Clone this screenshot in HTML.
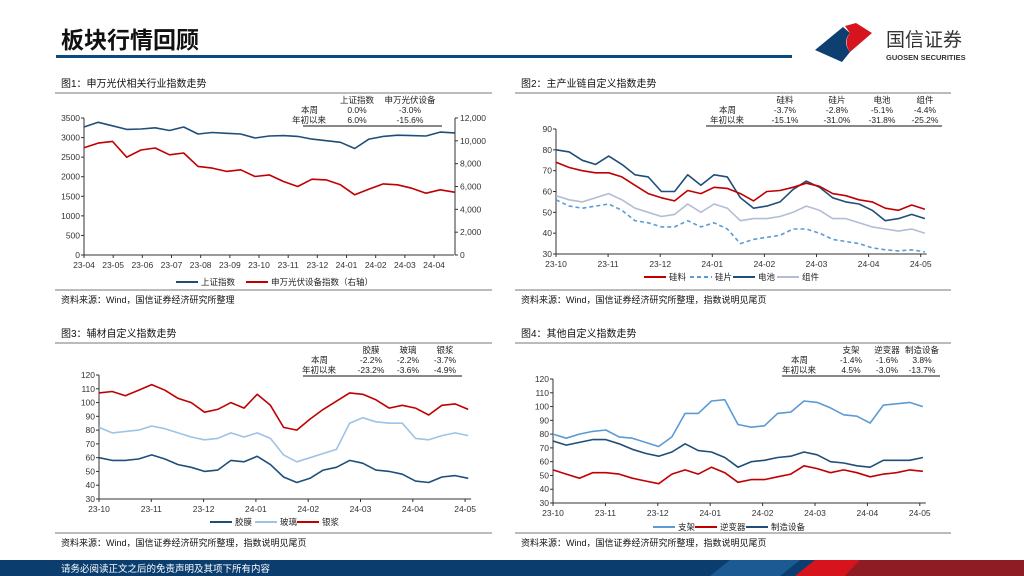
<!DOCTYPE html>
<html><head><meta charset="utf-8"><style>
html,body{margin:0;padding:0;background:#fff;}
svg{display:block;font-family:"Liberation Sans","Noto Sans CJK SC",sans-serif;}
</style></head><body>
<svg id="page" width="1024" height="576" viewBox="0 0 1024 576" xmlns="http://www.w3.org/2000/svg">
<text x="61" y="48" font-size="23" font-weight="bold" fill="#111">板块行情回顾</text>
<rect x="56" y="55" width="736" height="3" fill="#0b4a7f"/>
<g>
<path d="M815 50 L843 27 L850 33 Q842 42 850 52 L842 62 Z" fill="#0e3f70"/>
<path d="M845 26 L856 23 L872 33 L850 52 Q843 42 850 33 Z" fill="#d7141e"/>
<text x="886" y="46" font-size="19" fill="#333">国信证券</text>
<text x="886" y="60" font-size="7.5" font-weight="bold" fill="#333">GUOSEN SECURITIES</text>
</g>
<g>
<rect x="0" y="560" width="1024" height="16" fill="#0b3e6f"/>
<polygon points="730,560 800,560 780,576 710,576" fill="#1c5a94"/>
<polygon points="815,560 860,560 845,576 795,576" fill="#d7141e"/>
<polygon points="860,560 1024,560 1024,576 845,576" fill="#8e1c24"/>
<text x="61" y="572" font-size="9.5" fill="#fff">请务必阅读正文之后的免责声明及其项下所有内容</text>
</g>
<g id="charts"></g>
</svg>
<script>
// ---- Chart 1 data (semi-monthly, 23-04 .. 24-04 end)
const c1Months = ["23-04","23-05","23-06","23-07","23-08","23-09","23-10","23-11","23-12","24-01","24-02","24-03","24-04"];
const c1Sse = [3270,3390,3300,3210,3220,3250,3180,3270,3090,3130,3110,3090,2990,3040,3050,3030,2960,2920,2880,2720,2960,3030,3060,3050,3040,3140,3120];
const c1Pv = [9400,9800,9950,8570,9200,9370,8780,8930,7760,7610,7320,7460,6880,7020,6440,6000,6640,6580,6150,5270,5770,6230,6150,5850,5410,5710,5500];
const c1LeftTicks = [0,500,1000,1500,2000,2500,3000,3500];
const c1RightTicks = [0,2000,4000,6000,8000,10000,12000];
const c1RightLabels = ["0","2,000","4,000","6,000","8,000","10,000","12,000"];
const c1TableCols = ["上证指数","申万光伏设备"];
const c1Week = ["0.0%","-3.0%"];
const c1Ytd = ["6.0%","-15.6%"];
// ---- Shared months for charts 2-4
const months7 = ["23-10","23-11","23-12","24-01","24-02","24-03","24-04","24-05"];
// ---- Chart 2 data (weekly)
const c2Silicon = [74,71.5,70,69,69,67,63,59,57,55.5,60.5,59,62,61.5,59,55.5,60,60.5,62,64,62.5,59,58,56,55,52,51,53.5,51.5];
const c2Wafer = [56,53,52,53,54,51,46,45,43,43,46,43,45,42,35,37,38,39,42,42,40,37,36,35,33,32,31.5,32,31];
const c2Cell = [80,79,75,73,77,73,68,67,60,60,68,63,68,67,57,52,53,55,61,65,62,57,55,54,51,46,47,49,47];
const c2Module = [58,56,55,57,59,56,52,50,48,49,54,50,54,52,46,47,47,48,50,53,51,47,47,45,43,42,41,42,40];
const c2Ticks = [30,40,50,60,70,80,90];
const c2TableCols = ["硅料","硅片","电池","组件"];
const c2Week = ["-3.7%","-2.8%","-5.1%","-4.4%"];
const c2Ytd = ["-15.1%","-31.0%","-31.8%","-25.2%"];
// ---- Chart 3 data
const c3Film = [60,58,58,59,62,59,55,53,50,51,58,57,61,55,46,42,45,51,53,58,56,51,50,48,43,42,46,47,45];
const c3Glass = [82,78,79,80,83,81,78,75,73,74,78,75,78,74,62,57,60,63,66,85,89,86,85,85,74,73,76,78,76];
const c3Paste = [107,108,105,109,113,109,103,100,93,95,100,96,106,98,82,80,88,95,101,107,106,102,96,98,96,91,98,99,95];
const c3Ticks = [30,40,50,60,70,80,90,100,110,120];
const c3TableCols = ["胶膜","玻璃","银浆"];
const c3Week = ["-2.2%","-2.2%","-3.7%"];
const c3Ytd = ["-23.2%","-3.6%","-4.9%"];
// ---- Chart 4 data
const c4Bracket = [80,77,80,82,83,78,77,74,71,78,95,95,104,105,87,85,86,95,96,104,103,99,94,93,88,101,102,103,100];
const c4Inverter = [54,51,48,52,52,51,48,46,44,51,54,51,56,52,45,47,47,49,51,57,55,52,54,52,49,51,52,54,53];
const c4Equip = [75,72,74,76,76,73,69,66,64,67,73,68,67,63,56,60,61,63,64,67,65,60,59,57,56,61,61,61,63];
const c4Ticks = c3Ticks;
const c4TableCols = ["支架","逆变器","制造设备"];
const c4Week = ["-1.4%","-1.6%","3.8%"];
const c4Ytd = ["4.5%","-3.0%","-13.7%"];

const NS="http://www.w3.org/2000/svg";
const root=document.getElementById('charts');
function mk(tag,attrs,parent){const e=document.createElementNS(NS,tag);for(const k in attrs)e.setAttribute(k,attrs[k]);(parent||root).appendChild(e);return e;}
function txt(s,x,y,size,anchor,parent,fill){const t=mk('text',{x:x,y:y,'font-size':size,'text-anchor':anchor||'start',fill:fill||'#222'},parent);t.textContent=s;return t;}

function frame(ox,w,top,title,bottomY,source,g){
  txt(title,ox+6,top-5,10,'start',g,'#111');
  mk('line',{x1:ox,y1:top+1,x2:ox+w,y2:top+1,stroke:'#777','stroke-width':1},g);
  mk('line',{x1:ox,y1:bottomY,x2:ox+w,y2:bottomY,stroke:'#777','stroke-width':1},g);
  txt(source,ox+6,bottomY+13,9,'start',g,'#111');
}
function table(cols,cx,week,ytd,labelX,y0,lineX1,lineX2,g){
  cols.forEach((c,i)=>{txt(c,cx[i],y0,8.5,'middle',g);txt(week[i],cx[i],y0+10,8.5,'middle',g);txt(ytd[i],cx[i],y0+20,8.5,'middle',g);});
  txt("本周",labelX,y0+10,8.5,'end',g);txt("年初以来",labelX+8,y0+20,8.5,'end',g);
  mk('line',{x1:lineX1,y1:y0+23,x2:lineX2,y2:y0+23,stroke:'#111','stroke-width':1},g);
}
function series(vals,xStart,xEnd,yf,color,dash,g,name){
  const n=vals.length;let d='';
  vals.forEach((v,i)=>{const x=xStart+(xEnd-xStart)*i/(n-1);d+=(i?'L':'M')+x.toFixed(1)+' '+yf(v).toFixed(1);});
  const p=mk('path',{d:d,fill:'none',stroke:color,'stroke-width':1.6,'stroke-linejoin':'round'},g);
  if(dash)p.setAttribute('stroke-dasharray',dash);
  
  
}
function legend(items,y,g){
  items.forEach(it=>{const l=mk('line',{x1:it[0],y1:y-3,x2:it[0]+22,y2:y-3,stroke:it[2],'stroke-width':2},g);if(it[3])l.setAttribute('stroke-dasharray',it[3]);txt(it[1],it[0]+25,y,8.5,'start',g);});
}
function xAxis(labels,x0,step,yAxis,g){
  mk('line',{x1:x0,y1:yAxis,x2:x0+step*(labels.length-1)+ (labels.length>8?20:6),y2:yAxis,stroke:'#333','stroke-width':1},g);
  labels.forEach((l,i)=>{const x=x0+step*i;mk('line',{x1:x,y1:yAxis,x2:x,y2:yAxis+3,stroke:'#333'},g);txt(l,x,yAxis+13,8.5,'middle',g,'#333');});
}
function yAxis(ticks,x,yf,g,labels,anchorRight){
  mk('line',{x1:x,y1:yf(ticks[0]),x2:x,y2:yf(ticks[ticks.length-1]),stroke:'#333','stroke-width':1},g);
  ticks.forEach((t,i)=>{const y=yf(t);mk('line',{x1:anchorRight?x:x-3,y1:y,x2:anchorRight?x+3:x,y2:y,stroke:'#333'},g);txt(labels?labels[i]:String(t),anchorRight?x+5:x-4,y+3,8.5,anchorRight?'start':'end',g,'#333');});
}

// Chart 1
{const g=mk('g',{});


frame(55,437,92,"图1：申万光伏相关行业指数走势",290,"资料来源：Wind，国信证券经济研究所整理",g);
const yl=v=>255-v/3500*137, yr=v=>255-v/12000*137;
yAxis(c1LeftTicks,84,yl,g);yAxis(c1RightTicks,455,yr,g,c1RightLabels,true);
const step=29.17;xAxis(c1Months,84,step,255,g);
const xe=84+step*12.7;
series(c1Sse,84,xe,yl,'#1f4e79',null,g,'sse-index-line');
series(c1Pv,84,xe,yr,'#c00000',null,g,'pv-equipment-line');
table(c1TableCols,[357,410],c1Week,c1Ytd,318,103,303,442,g);
legend([[176,"上证指数",'#1f4e79'],[246,"申万光伏设备指数（右轴）",'#c00000']],285,g);}

// Chart 2
{const g=mk('g',{});


frame(515,436,92,"图2：主产业链自定义指数走势",290,"资料来源：Wind，国信证券经济研究所整理，指数说明见尾页",g);
const yf=v=>254-(v-30)/60*125;
yAxis(c2Ticks,556,yf,g);const step=52.1;xAxis(months7,556,step,254,g);
const xe=556+step*7.08;
series(c2Module,556,xe,yf,'#b4bdd6',null,g,'module-line');
series(c2Wafer,556,xe,yf,'#5b9bd5','4 3',g,'wafer-line');
series(c2Cell,556,xe,yf,'#1f4e79',null,g,'cell-line');
series(c2Silicon,556,xe,yf,'#c00000',null,g,'polysilicon-line');
table(c2TableCols,[785,837,882,925],c2Week,c2Ytd,736,103,706,942,g);
legend([[644,"硅料",'#c00000'],[690,"硅片",'#5b9bd5','4 3'],[733,"电池",'#1f4e79'],[777,"组件",'#b4bdd6']],280,g);}

// Chart 3
{const g=mk('g',{});


frame(55,437,342,"图3：辅材自定义指数走势",533,"资料来源：Wind，国信证券经济研究所整理，指数说明见尾页",g);
const yf=v=>499-(v-30)/90*124;
yAxis(c3Ticks,99,yf,g);const step=52.3;xAxis(months7,99,step,499,g);
const xe=99+step*7.06;
series(c3Film,99,xe,yf,'#1f4e79',null,g,'film-line');
series(c3Glass,99,xe,yf,'#9dc3e6',null,g,'glass-line');
series(c3Paste,99,xe,yf,'#c00000',null,g,'silver-paste-line');
table(c3TableCols,[371,408,445],c3Week,c3Ytd,328,353,303,462,g);
legend([[210,"胶膜",'#1f4e79'],[255,"玻璃",'#9dc3e6'],[297,"银浆",'#c00000']],525,g);}

// Chart 4
{const g=mk('g',{});


frame(515,436,342,"图4：其他自定义指数走势",533,"资料来源：Wind，国信证券经济研究所整理，指数说明见尾页",g);
const yf=v=>503-(v-30)/90*124;
yAxis(c4Ticks,553,yf,g);const step=52.4;xAxis(months7,553,step,503,g);
const xe=553+step*7.06;
series(c4Bracket,553,xe,yf,'#5b9bd5',null,g,'bracket-line');
series(c4Inverter,553,xe,yf,'#c00000',null,g,'inverter-line');
series(c4Equip,553,xe,yf,'#1f4e79',null,g,'equipment-line');
table(c4TableCols,[851,887,922],c4Week,c4Ytd,808,353,782,940,g);
legend([[653,"支架",'#5b9bd5'],[695,"逆变器",'#c00000'],[746,"制造设备",'#1f4e79']],530,g);}
</script>
</body></html>
